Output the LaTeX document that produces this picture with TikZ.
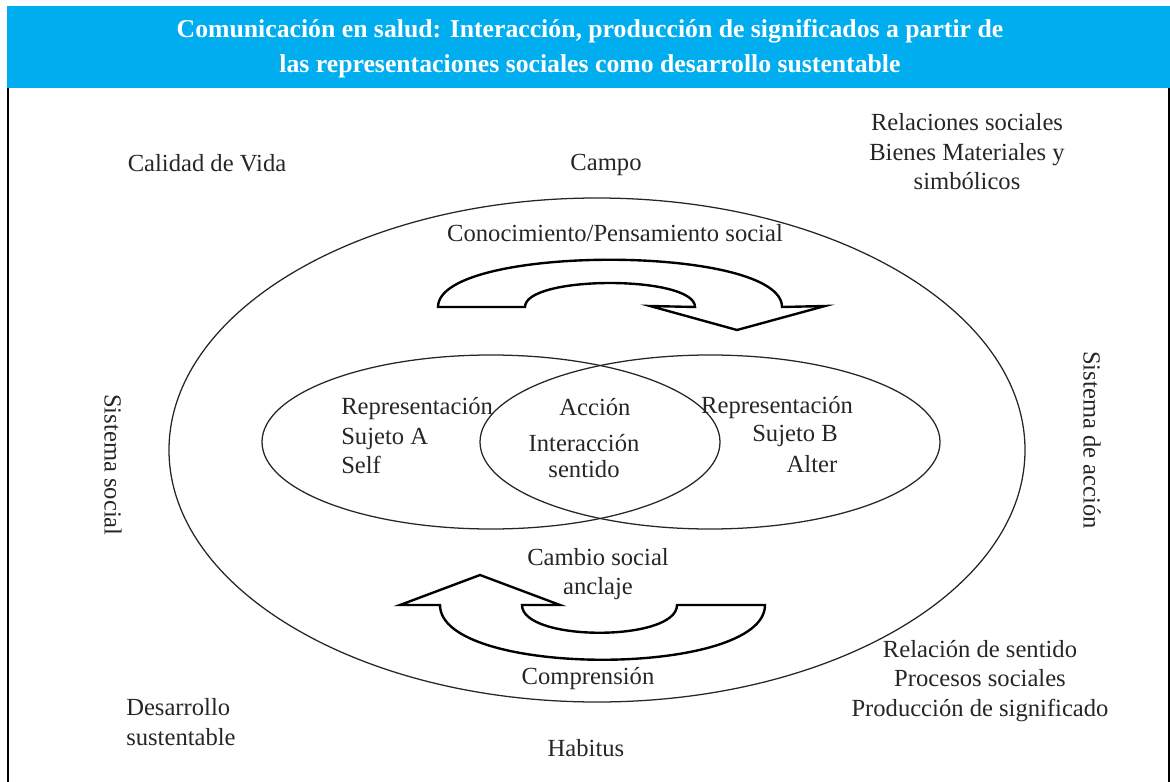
\documentclass[tikz,border=0pt]{standalone}
\usepackage{fontspec}
\setmainfont{Liberation Serif}
\usetikzlibrary{positioning}
\definecolor{headblue}{RGB}{0,174,239}
\tikzstyle{flow arrow} = [draw=black, line width=1.7pt, fill=white, line join=miter]
\tikzstyle{ring} = [draw=black!85, line width=0.9pt]

\begin{document}
\begin{tikzpicture}[x=0.025cm, y=-0.025cm,
                      text node/.style={font=\fontsize{17.5}{21}\selectfont, text=black!85, inner sep=0pt, align=center},
                      title node/.style={font=\fontsize{18.3}{24.8}\selectfont\bfseries, text=white, inner sep=0pt, align=center}]

        \useasboundingbox (0,0) rectangle (1170,782);

        % header and frame
        \fill[headblue] (7,6) rectangle (1170,88);
        \draw[line width=1.2pt] (8,88) -- (8,782) (1169,88) -- (1169,782);
        \node[title node] (0) at (590,49) {Comunicación en salud: Interacción, producción de significados a partir de\\las representaciones sociales como desarrollo sustentable};

        % ellipses
        \draw[ring] (597,450) ellipse [x radius=428, y radius=252];
        \draw[ring] (491,442) ellipse [x radius=229, y radius=87];
        \draw[ring] (710,442) ellipse [x radius=230, y radius=87];

        % curved arrows
        \path[flow arrow] (438,307) .. controls (438,244) and (782,244) .. (782,307)
              -- (825,306) -- (737,330) -- (650,306) -- (695,307)
              .. controls (695,275) and (525,275) .. (525,307) -- cycle;
        \path[flow arrow] (677,605) -- (765,605)
              .. controls (765,678) and (440,678) .. (440,605)
              -- (400,605) -- (480,575) -- (560,605) -- (522,605)
              .. controls (522,642) and (677,642) .. (677,605) -- cycle;

        % labels
        \node[text node] (1) at (207,163) {Calidad de Vida};
        \node[text node] (2) at (606,165) {Campo};
        \node[text node] (3) at (967,152) {Relaciones sociales\\Bienes Materiales y\\simbólicos};
        \node[text node] (4) at (615,233) {Conocimiento/Pensamiento social};
        \node[text node, rotate=-90] (5) at (113,465) {Sistema social};
        \node[text node, rotate=-90] (6) at (1092,440) {Sistema de acción};
        \node[text node, align=left, anchor=west] (7) at (341,436) {Representación\\Sujeto A\\Self};
        \node[text node] (8) at (595,407) {Acción};
        \node[text node] (9) at (584,443) {Interacción};
        \node[text node] (10) [below=6pt of 9] {sentido};
        \node[text node] (11) at (777,408) {Representación};
        \node[text node] (12) at (795,436) {Sujeto B};
        \node[text node] (13) at (812,464) {Alter};
        \node[text node] (14) at (598,574) {Cambio social\\anclaje};
        \node[text node] (15) at (588,679) {Comprensión};
        \node[text node] (16) at (980,681) {Relación de sentido\\Procesos sociales\\Producción de significado};
        \node[text node, align=left, anchor=west] (17) at (126,722) {Desarrollo\\sustentable};
        \node[text node] (18) at (586,748) {Habitus};

\end{tikzpicture}
\end{document}
